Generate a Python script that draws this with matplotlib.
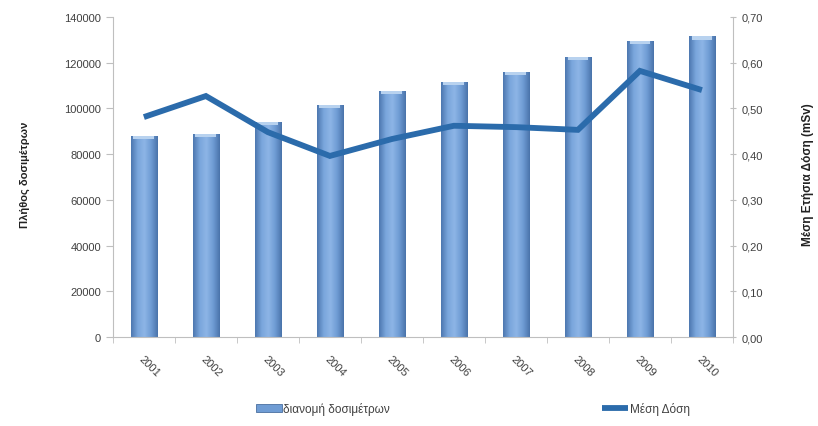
import numpy as np
import matplotlib
matplotlib.use("Agg")
import matplotlib.pyplot as plt
from matplotlib.ticker import FuncFormatter, FixedLocator
from matplotlib.colors import LinearSegmentedColormap

plt.rcParams['font.family'] = ['Liberation Sans', 'DejaVu Sans']

years = ['2001', '2002', '2003', '2004', '2005', '2006', '2007', '2008', '2009', '2010']
dosimeters = [88000, 89000, 94000, 101500, 107500, 111500, 116000, 122500, 129500, 131500]
mean_dose = [0.481, 0.527, 0.448, 0.396, 0.433, 0.462, 0.459, 0.453, 0.582, 0.540]

fig = plt.figure(figsize=(8.18, 4.27), dpi=100)
ax = fig.add_axes([0.138, 0.2084, 0.758, 0.7496])
ax2 = ax.twinx()

x = np.arange(len(years))
w = 0.42

# bars with horizontal shading (cylinder-like)
cmap = LinearSegmentedColormap.from_list(
    'bar', ['#4d78b0', '#7aa6dc', '#8db5e6', '#6f9cd4', '#4a74ab'])
grad = np.linspace(0, 1, 64).reshape(1, -1)
bars = ax.bar(x, dosimeters, width=w, color='#6f9cd4', edgecolor='#4a6f9f',
              linewidth=0.6, zorder=2, label='διανομή δοσιμέτρων')
for b in bars:
    x0, y0 = b.get_x(), b.get_y()
    im = ax.imshow(grad, cmap=cmap, aspect='auto', zorder=2.1,
                   extent=(x0, x0 + b.get_width(), y0, y0 + b.get_height()))
    im.set_clip_path(b)
    # light cap at the top
    ax.bar(b.get_x() + b.get_width() / 2, 1400, bottom=b.get_height() - 1400,
           width=b.get_width() * 0.8, color='#b8d2ef', linewidth=0, zorder=2.2)

ax.set_xlim(-0.5, len(years) - 0.5)
ax.set_ylim(0, 140000)
ax.set_yticks(np.arange(0, 140001, 20000))

ln, = ax2.plot(x, mean_dose, color='#2b6bab', linewidth=4.2,
               solid_capstyle='butt', solid_joinstyle='miter', zorder=3,
               label='Μέση Δόση')
ax2.set_ylim(0, 0.70)
ax2.set_yticks(np.arange(0, 0.701, 0.10))
ax2.yaxis.set_major_formatter(FuncFormatter(lambda v, p: f"{v:.2f}".replace('.', ',')))

for a in (ax, ax2):
    for s in a.spines.values():
        s.set_visible(False)
ax.spines['left'].set_visible(True)
ax.spines['left'].set_color('#bfbfbf')
ax.spines['bottom'].set_visible(True)
ax.spines['bottom'].set_color('#bfbfbf')
ax2.spines['right'].set_visible(True)
ax2.spines['right'].set_color('#bfbfbf')

ax.tick_params(axis='y', colors='#bfbfbf', labelcolor='#404040', labelsize=8,
               length=5, direction='out')
ax2.tick_params(axis='y', colors='#bfbfbf', labelcolor='#404040', labelsize=8,
                length=5, direction='inout')

ax.set_xticks(x)
ax.set_xticklabels(years, rotation=-45, ha='left', rotation_mode='anchor',
                   fontsize=8, color='#404040')
ax.tick_params(axis='x', which='major', length=0, pad=12)
ax.xaxis.set_minor_locator(FixedLocator(np.arange(-0.5, len(years), 1)))
ax.tick_params(axis='x', which='minor', length=4, color='#bfbfbf', direction='out')

ax.set_ylabel('Πλήθος δοσιμέτρων', fontsize=8, fontweight='bold', color='#222222')
ax.yaxis.set_label_coords(-0.133, 0.51)
fig.text(0.988, 0.59, 'Μέση Ετήσια Δόση (mSv)', rotation=90, fontsize=8.5,
         fontweight='bold', color='#222222', ha='center', va='center')

fig.legend(handles=[bars, ln], labels=['διανομή δοσιμέτρων', 'Μέση Δόση'],
           loc='center', bbox_to_anchor=(0.578, 0.04), ncol=2, frameon=False,
           fontsize=8.5, columnspacing=18, handlelength=2.2, handletextpad=0.1,
           labelcolor='#404040')

fig.savefig('out.png', dpi=100)
